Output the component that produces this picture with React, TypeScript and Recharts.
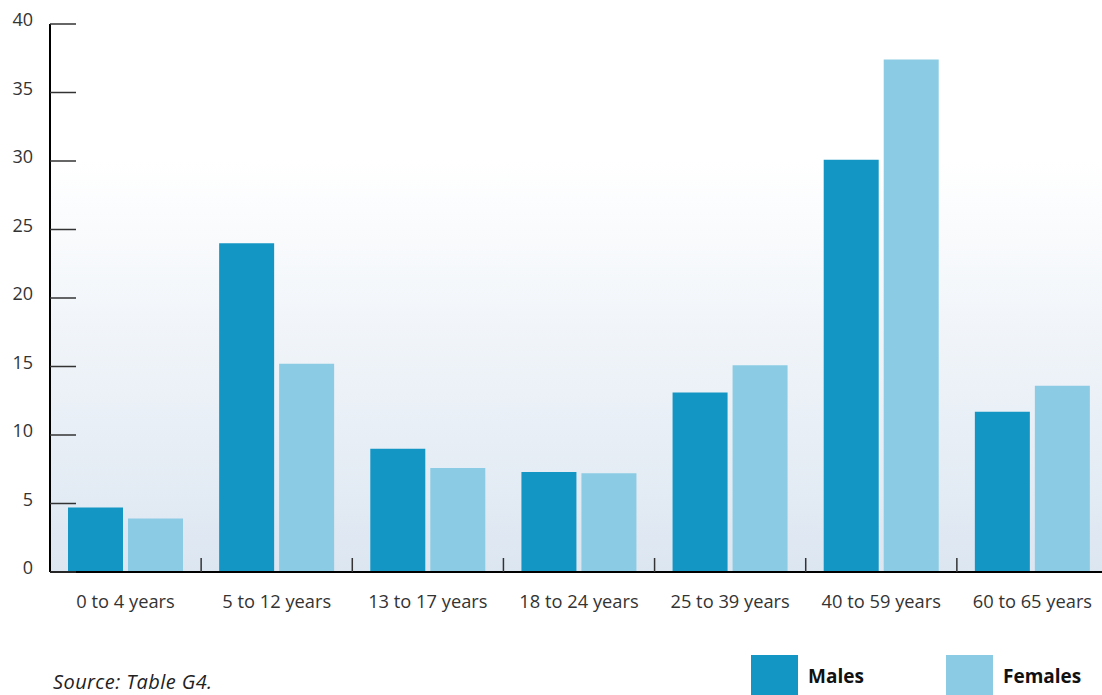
import React from "react";
import { BarChart, Bar, XAxis, YAxis, CartesianGrid, Legend } from "recharts";

const categories = [
  "0 to 4 years",
  "5 to 12 years",
  "13 to 17 years",
  "18 to 24 years",
  "25 to 39 years",
  "40 to 59 years",
  "60 to 65 years",
];
const males = [4.7, 24.0, 9.0, 7.3, 13.1, 30.1, 11.7];
const females = [3.9, 15.2, 7.6, 7.2, 15.1, 37.4, 13.6];
const yTicks = [0, 5, 10, 15, 20, 25, 30, 35, 40];
const seriesOrder = ["Males", "Females"];
const sourceNote = "Source: Table G4.";

const data = categories.map((c, i) => ({ category: c, Males: males[i], Females: females[i] }));

const MALE_COLOR = "#1496c4";
const FEMALE_COLOR = "#8bcce4";
const FONT = '"Open Sans", "Noto Sans", sans-serif';

const YTick = (props: any) => {
  const { x, y, payload } = props;
  return (
    <g>
      <line x1={x} x2={x + 26} y1={y} y2={y} stroke="#333" strokeWidth={1.5} />
      <text x={x - 17} y={y - 4} dy="0.35em" textAnchor="end" fill="#333" fontSize={18} fontFamily={FONT}>
        {payload.value}
      </text>
    </g>
  );
};

const XTick = (props: any) => {
  const { x, y, payload, index } = props;
  const half = payload && typeof payload.offset === "number" ? payload.offset : 0;
  return (
    <g>
      {index < categories.length - 1 && half > 0 ? (
        <line x1={x + half} x2={x + half} y1={y - 14} y2={y} stroke="#333" strokeWidth={1.5} />
      ) : null}
      <text x={x} y={y + 36} textAnchor="middle" fill="#333" fontSize={18.3} fontFamily={FONT}>
        {payload.value}
      </text>
    </g>
  );
};

const LegendContent = (props: any) => {
  const payload = [...(props.payload || [])].sort(
    (a: any, b: any) => seriesOrder.indexOf(a.value) - seriesOrder.indexOf(b.value)
  );
  const positions = [751, 946];
  return (
    <div style={{ position: "relative", width: 1110, height: 40, fontFamily: FONT }}>
      <div
        style={{
          position: "absolute",
          left: 53,
          top: 17,
          fontStyle: "italic",
          fontSize: 20,
          lineHeight: "20px",
          letterSpacing: 0.4,
          color: "#222",
          whiteSpace: "nowrap",
        }}
      >
        {sourceNote}
      </div>
      {payload.map((p: any, i: number) => (
        <div key={p.value} style={{ position: "absolute", left: positions[i], top: 0 }}>
          <div style={{ position: "absolute", left: 0, top: 0, width: 47, height: 40, background: p.color }} />
          <div
            style={{
              position: "absolute",
              left: 57,
              top: 12,
              fontWeight: 700,
              fontSize: 19,
              lineHeight: "19px",
              color: "#111",
              whiteSpace: "nowrap",
            }}
          >
            {p.value}
          </div>
        </div>
      ))}
    </div>
  );
};

export default function App() {
  return (
    <div
      style={{
        position: "absolute",
        left: 0,
        top: 0,
        width: 1102,
        height: 695,
        overflow: "hidden",
        background: "#ffffff",
        fontFamily: FONT,
      }}
    >
      <BarChart
        width={1110}
        height={695}
        data={data}
        margin={{ top: 24, right: 2, left: 0, bottom: 0 }}
        barCategoryGap={18}
        barGap={5}
      >
        <defs>
          <linearGradient id="plotBg" x1="0" y1="0" x2="0" y2="1">
            <stop offset="0%" stopColor="#ffffff" />
            <stop offset="25%" stopColor="#ffffff" />
            <stop offset="100%" stopColor="#dce6f1" />
          </linearGradient>
        </defs>
        <CartesianGrid horizontal={false} vertical={false} fill="url(#plotBg)" stroke="none" />
        <XAxis
          dataKey="category"
          height={83}
          tickSize={0}
          tickMargin={0}
          tickLine={false}
          axisLine={{ stroke: "#000", strokeWidth: 2 }}
          tick={<XTick />}
          interval={0}
        />
        <YAxis
          width={50}
          domain={[0, 40]}
          ticks={yTicks}
          tickSize={0}
          tickMargin={0}
          tickLine={false}
          axisLine={{ stroke: "#000", strokeWidth: 2 }}
          tick={<YTick />}
          interval={0}
        />
        <Legend
          verticalAlign="bottom"
          content={<LegendContent />}
          wrapperStyle={{ left: 0, bottom: 0, width: 1110, height: 40 }}
        />
        <Bar dataKey="Males" name="Males" fill={MALE_COLOR} isAnimationActive={false} />
        <Bar dataKey="Females" name="Females" fill={FEMALE_COLOR} isAnimationActive={false} />
      </BarChart>
    </div>
  );
}
